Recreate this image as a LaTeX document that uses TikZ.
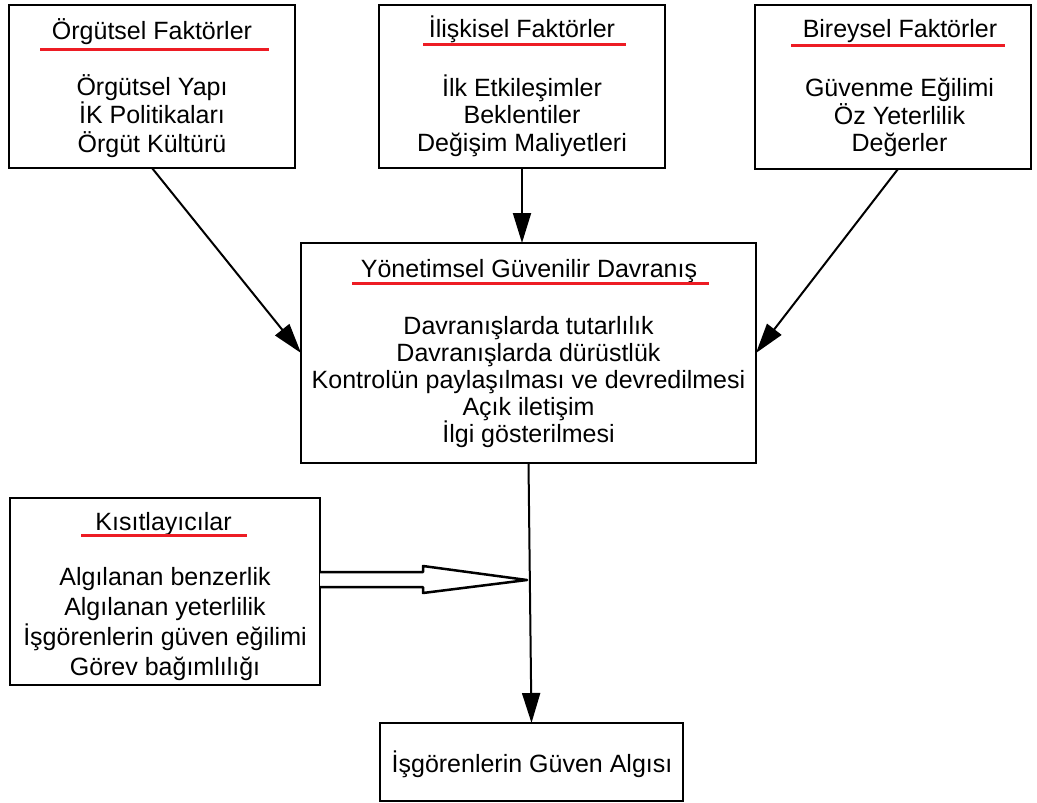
\documentclass[tikz,border=0pt]{standalone}
\usepackage{fontspec}
\setmainfont{Liberation Sans}
\usetikzlibrary{arrows.meta,calc}
\definecolor{ulred}{RGB}{237,28,36}
% centred lines at a fixed baseline distance; the box's baseline is that of the first line
\newcommand\linestack[2]{\vtop{\baselineskip=#1\lineskiplimit=-\maxdimen\lineskip=0pt\halign{\hfil##\hfil\cr#2\crcr}}}
\begin{document}
\begin{tikzpicture}[x=1pt,y=-1pt,
  box/.style={draw,line width=2pt,inner sep=0pt,outer sep=0pt},
  txt/.style={font=\fontsize{25}{28}\selectfont,inner sep=0pt,anchor=base},
  uline/.style={draw=ulred,line width=3pt},
  conn/.style={draw,line width=2pt,-{Triangle[length=30pt,width=18pt]}},
  hollow/.style={draw,line width=2.5pt,line join=round,fill=white}]
\useasboundingbox (0,0) rectangle (1037,803);

% boxes
\node[box,minimum width=286pt,minimum height=163pt] (b1) at (152,86.5) {};
\node[box,minimum width=286pt,minimum height=163pt] (b2) at (522,86.5) {};
\node[box,minimum width=276pt,minimum height=164pt] (b3) at (893,87) {};
\node[box,minimum width=455pt,minimum height=220pt] (c) at (528.5,353) {};
\node[box,minimum width=310pt,minimum height=187pt] (k) at (165,591.5) {};
\node[box,minimum width=303pt,minimum height=78pt] (g) at (531.5,762) {};

% Örgütsel Faktörler
\node[txt] (b1t) at (152,39) {Örgütsel Faktörler};
\draw[uline] (40,49) -- (269,49);
\node[txt] (b1b) at (152,95) {\linestack{28.5pt}{Örgütsel Yapı\cr İK Politikaları\cr Örgüt Kültürü}};

% İlişkisel Faktörler
\node[txt] (b2t) at (522,37) {İlişkisel Faktörler};
\draw[uline] (423,44) -- (626,44);
\node[txt] (b2b) at (522,96) {\linestack{27.5pt}{İlk Etkileşimler\cr Beklentiler\cr Değişim Maliyetleri}};

% Bireysel Faktörler
\node[txt] (b3t) at (900,37) {Bireysel Faktörler};
\draw[uline] (791,45) -- (1005,45);
\node[txt] (b3b) at (899.5,96.5) {\linestack{27.5pt}{Güvenme Eğilimi\cr Öz Yeterlilik\cr Değerler}};

% Yönetimsel Güvenilir Davranış
\node[txt] (ct) at (529,277) {Yönetimsel Güvenilir Davranış};
\draw[uline] (352,283) -- (709,283);
\node[txt] (cb) at (528.5,334) {\linestack{27pt}{Davranışlarda tutarlılık\cr Davranışlarda dürüstlük\cr Kontrolün paylaşılması ve devredilmesi\cr Açık iletişim\cr İlgi gösterilmesi}};

% Kısıtlayıcılar
\node[txt] (kt) at (163.5,530) {Kısıtlayıcılar};
\draw[uline] (81,535) -- (247,535);
\node[txt] (kb) at (165,585) {\linestack{30pt}{Algılanan benzerlik\cr Algılanan yeterlilik\cr İşgörenlerin güven eğilimi\cr Görev bağımlılığı}};

% İşgörenlerin Güven Algısı
\node[txt] (gt) at (532,772) {İşgörenlerin Güven Algısı};

% connectors
\draw[conn] (b1.south) -- (c.west);
\draw[conn] (b2.south) -- (b2.south |- c.north);
\draw[conn] ([xshift=5pt]b3.south) -- (c.east);
\draw[conn] (c.south) -- (g.north);

% hollow arrow from the moderators onto the main path
\coordinate (tip) at (527,580);
\draw[hollow] (k.east |- 0,572) -- (423,572) -- (423,566) -- (tip)
  -- (423,593) -- (423,587) -- (k.east |- 0,587);
\end{tikzpicture}
\end{document}
